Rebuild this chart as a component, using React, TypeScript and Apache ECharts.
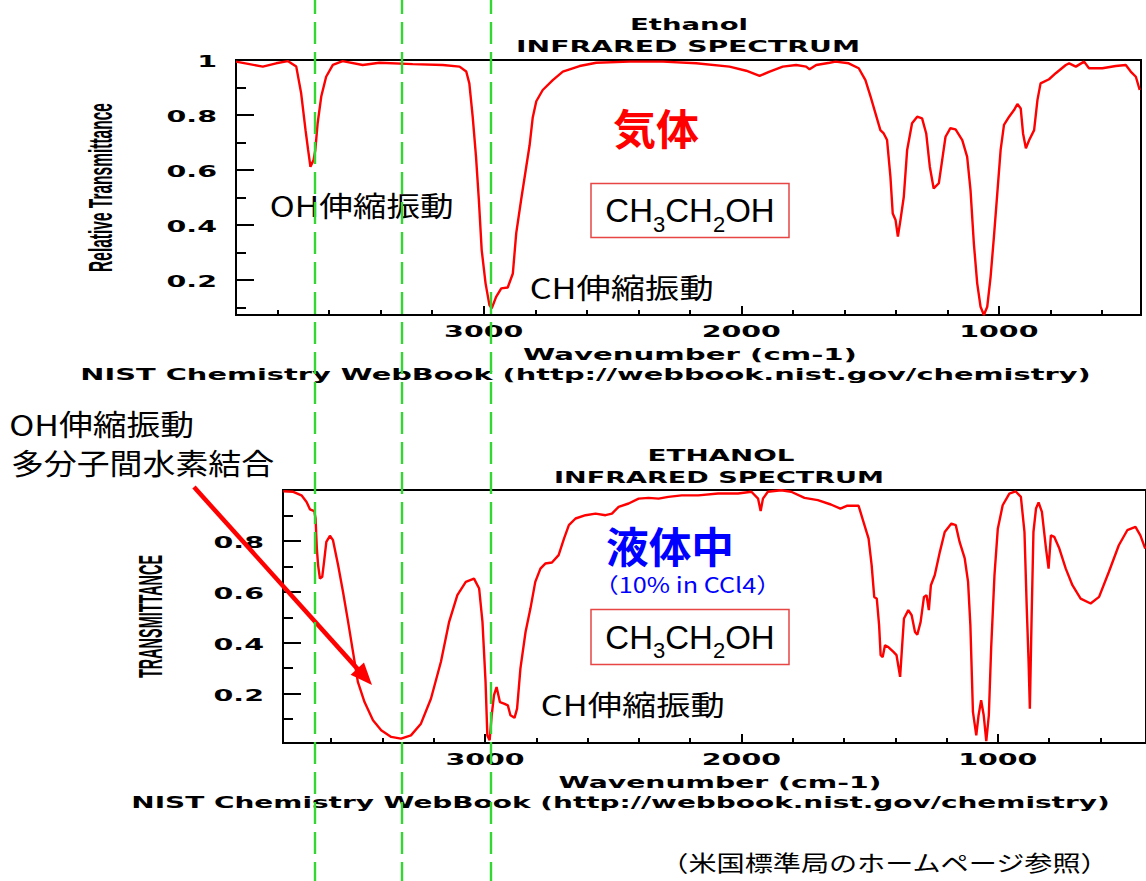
import React, { useEffect, useRef } from "react";
import * as echarts from "echarts";

// ---------- data ----------
// Gas phase spectrum (top)
const gasWavenumber = [
  3962, 3910, 3858, 3806, 3761, 3728, 3709, 3692, 3682, 3673,
  3661, 3654, 3645, 3631, 3612, 3586, 3548, 3470, 3405, 3276,
  3159, 3094, 3068, 3056, 3043, 3030, 3019, 3008, 2993, 2978,
  2969, 2952, 2932, 2907, 2887, 2874, 2855, 2835, 2822, 2810,
  2796, 2771, 2732, 2693, 2628, 2563, 2434, 2305, 2175, 2046,
  1981, 1929, 1890, 1839, 1787, 1748, 1735, 1709, 1657, 1634,
  1583, 1544, 1518, 1498, 1479, 1460, 1447, 1434, 1421, 1412,
  1401, 1392, 1382, 1369, 1356, 1337, 1317, 1298, 1282, 1268,
  1253, 1233, 1220, 1207, 1188, 1168, 1142, 1123, 1110, 1097,
  1084, 1071, 1058, 1045, 1032, 1019, 1006, 993, 980, 960,
  941, 928, 915, 906, 895, 882, 863, 850, 838, 805,
  779, 740, 727, 701, 669, 650, 598, 546, 507, 488,
  468, 453,
];
const gasTransmittance = [
  0.994, 0.985, 0.976, 0.988, 0.996, 0.976, 0.879, 0.745, 0.673, 0.612,
  0.636, 0.673, 0.77, 0.867, 0.939, 0.982, 0.996, 0.982, 0.99, 0.985,
  0.982, 0.976, 0.958, 0.915, 0.794, 0.648, 0.491, 0.309, 0.188, 0.109,
  0.097, 0.139, 0.17, 0.173, 0.224, 0.37, 0.491, 0.612, 0.69, 0.79,
  0.85, 0.891, 0.927, 0.958, 0.978, 0.99, 0.994, 0.994, 0.988, 0.976,
  0.961, 0.942, 0.958, 0.976, 0.982, 0.976, 0.966, 0.982, 0.99, 0.994,
  0.988, 0.97, 0.927, 0.867, 0.806, 0.745, 0.733, 0.709, 0.576, 0.442,
  0.418, 0.358, 0.418, 0.503, 0.673, 0.77, 0.794, 0.788, 0.733, 0.612,
  0.533, 0.552, 0.636, 0.721, 0.752, 0.748, 0.709, 0.648, 0.527, 0.333,
  0.188, 0.103, 0.073, 0.103, 0.212, 0.358, 0.515, 0.673, 0.764, 0.794,
  0.818, 0.84, 0.824, 0.733, 0.679, 0.709, 0.745, 0.855, 0.915, 0.93,
  0.952, 0.982, 0.988, 0.976, 0.994, 0.97, 0.97, 0.978, 0.982, 0.958,
  0.939, 0.891,
];

// Liquid (10% in CCl4) spectrum (bottom)
const liquidWavenumber = [
  3787, 3748, 3716, 3696, 3683, 3666, 3661, 3656, 3651, 3644,
  3635, 3628, 3619, 3605, 3593, 3573, 3554, 3534, 3515, 3496,
  3470, 3437, 3405, 3366, 3328, 3289, 3250, 3211, 3172, 3140,
  3108, 3075, 3043, 3023, 3010, 2998, 2991, 2982, 2974, 2965,
  2955, 2942, 2926, 2911, 2901, 2885, 2875, 2862, 2842, 2823,
  2804, 2784, 2765, 2739, 2713, 2692, 2673, 2647, 2608, 2569,
  2530, 2505, 2479, 2440, 2401, 2362, 2323, 2285, 2233, 2168,
  2091, 2013, 1961, 1935, 1925, 1916, 1897, 1845, 1806, 1754,
  1702, 1651, 1614, 1589, 1543, 1524, 1504, 1492, 1482, 1472,
  1463, 1457, 1449, 1440, 1427, 1407, 1395, 1381, 1373, 1366,
  1349, 1336, 1323, 1314, 1301, 1288, 1278, 1269, 1261, 1246,
  1226, 1207, 1181, 1164, 1149, 1129, 1116, 1107, 1097, 1084,
  1075, 1065, 1055, 1045, 1035, 1026, 1013, 1000, 981, 955,
  931, 910, 896, 887, 880, 875, 868, 861, 851, 841,
  828, 812, 802, 793, 780, 760, 735, 709, 677, 638,
  605, 567, 528, 495, 463, 444, 425,
];
const liquidTransmittance = [
  0.995, 0.993, 0.979, 0.953, 0.924, 0.917, 0.888, 0.77, 0.704, 0.652,
  0.659, 0.717, 0.796, 0.82, 0.803, 0.704, 0.6, 0.482, 0.364, 0.246,
  0.167, 0.095, 0.056, 0.03, 0.023, 0.036, 0.082, 0.18, 0.325, 0.482,
  0.587, 0.639, 0.652, 0.613, 0.482, 0.246, 0.036, 0.017, 0.115, 0.194,
  0.226, 0.167, 0.161, 0.154, 0.115, 0.105, 0.141, 0.298, 0.442, 0.534,
  0.639, 0.691, 0.711, 0.715, 0.744, 0.809, 0.862, 0.888, 0.901, 0.907,
  0.901, 0.907, 0.934, 0.947, 0.966, 0.969, 0.966, 0.973, 0.979, 0.979,
  0.986, 0.986, 0.993, 0.966, 0.917, 0.966, 0.993, 0.999, 0.993, 0.969,
  0.96, 0.943, 0.927, 0.938, 0.938, 0.875, 0.809, 0.704, 0.58, 0.573,
  0.469, 0.351, 0.344, 0.39, 0.383, 0.364, 0.351, 0.266, 0.39, 0.495,
  0.528, 0.508, 0.442, 0.432, 0.482, 0.58, 0.587, 0.528, 0.626, 0.665,
  0.757, 0.835, 0.868, 0.862, 0.796, 0.731, 0.639, 0.469, 0.128, 0.036,
  0.115, 0.174, 0.115, 0.013, 0.115, 0.377, 0.665, 0.848, 0.94, 0.986,
  0.995, 0.973, 0.835, 0.534, 0.325, 0.141, 0.508, 0.835, 0.927, 0.951,
  0.914, 0.77, 0.691, 0.822, 0.816, 0.77, 0.691, 0.626, 0.573, 0.554,
  0.58, 0.678, 0.783, 0.842, 0.855, 0.822, 0.77,
];

// Axis ticks / labels
const xMajorTicks = [3000, 2000, 1000];
const xMinorTicks = [3800, 3600, 3400, 3200, 2800, 2600, 2400, 2200, 1800, 1600, 1400, 1200, 800, 600];
const gasYLabels = [1, 0.8, 0.6, 0.4, 0.2];
const liquidYLabels = [0.8, 0.6, 0.4, 0.2];
const yMajorTicks = [0.2, 0.4, 0.6, 0.8];
const yMinorTicks = [0.1, 0.3, 0.5, 0.7, 0.9];
// Green guide lines (wavenumbers)
const guideWavenumbers = [3654, 3316, 2971];

// ---------- styling ----------
const RED = "#FF0000";
const JP = '"Noto Sans CJK JP", sans-serif';
const WIDE = '"DejaVu Sans", sans-serif';
const ARIAL = '"Liberation Sans", Arial, sans-serif';

let measureCtx: CanvasRenderingContext2D | null = null;
function measure(text: string, font: string): number {
  if (!measureCtx) measureCtx = document.createElement("canvas").getContext("2d");
  measureCtx!.font = font;
  return measureCtx!.measureText(text).width || 1;
}

function fitText(
  text: string, cx: number, cy: number, width: number, size: number,
  family: string, weight: string, color: string, rotation = 0
): any {
  const w = measure(text, `${weight} ${size}px ${family}`);
  return {
    type: "text", x: cx, y: cy, rotation, scaleX: width / w, z: 20,
    style: {
      text, fontSize: size, fontFamily: family, fontWeight: weight, fill: color,
      textAlign: "center", textVerticalAlign: "middle", align: "center", verticalAlign: "middle",
    },
  };
}

function wideLabel(text: string, x: number, y: number, align: string): any {
  return {
    type: "text", x, y, scaleX: 1.9, z: 20,
    style: {
      text, fontSize: 15, fontFamily: WIDE, fontWeight: "bold", fill: "#000",
      textAlign: align, textVerticalAlign: "middle", align, verticalAlign: "middle",
    },
  };
}

function formula(cx: number, capY: number): any[] {
  const parts: [string, number, boolean][] = [
    ["CH", 33, false], ["3", 22, true], ["CH", 33, false], ["2", 22, true], ["OH", 33, false],
  ];
  const widths = parts.map((p) => measure(p[0], `normal ${p[1]}px ${ARIAL}`));
  const total = widths.reduce((a, b) => a + b, 0);
  let x = cx - total / 2;
  return parts.map((p, i) => {
    const el = {
      type: "text", x, y: p[2] ? capY + 13.5 : capY, z: 20,
      style: {
        text: p[0], fontSize: p[1], fontFamily: ARIAL, fill: "#000",
        textAlign: "left", textVerticalAlign: "middle", align: "left", verticalAlign: "middle",
      },
    };
    x += widths[i];
    return el;
  });
}

function arrow(x1: number, y1: number, x2: number, y2: number): any[] {
  const dx = x2 - x1, dy = y2 - y1;
  const len = Math.sqrt(dx * dx + dy * dy);
  const ux = dx / len, uy = dy / len;
  const hl = 22, hw = 9;
  const bx = x2 - ux * hl, by = y2 - uy * hl;
  return [
    { type: "line", z: 25, shape: { x1, y1, x2: bx + ux * 2, y2: by + uy * 2 }, style: { stroke: RED, lineWidth: 4.5 } },
    {
      type: "polygon", z: 25,
      shape: { points: [[x2, y2], [bx - uy * hw, by + ux * hw], [bx + uy * hw, by - ux * hw]] },
      style: { fill: RED },
    },
  ];
}

function zip(xs: number[], ys: number[]) {
  return xs.map((x, i) => [x, ys[i]]);
}

function xAxisPair(gridIndex: number, min: number, max: number) {
  const base = {
    gridIndex, type: "value", inverse: true, min, max, position: "bottom",
    axisLabel: { show: false }, splitLine: { show: false },
  };
  return [
    {
      ...base,
      axisLine: { show: true, onZero: false, lineStyle: { color: "#000", width: 2 } },
      axisTick: { show: true, inside: true, length: 9, lineStyle: { color: "#000", width: 2 }, customValues: xMajorTicks },
    },
    {
      ...base,
      axisLine: { show: false },
      axisTick: {
        show: true, inside: true, length: 5, lineStyle: { color: "#000", width: 2 },
        customValues: xMinorTicks.filter((v) => v > min && v < max),
      },
    },
  ];
}

function yAxisPair(gridIndex: number, min: number, max: number) {
  const base = {
    gridIndex, type: "value", min, max, position: "left",
    axisLabel: { show: false }, splitLine: { show: false },
  };
  return [
    {
      ...base,
      axisLine: { show: true, onZero: false, lineStyle: { color: "#000", width: 2 } },
      axisTick: { show: true, inside: true, length: 18, lineStyle: { color: "#000", width: 2 }, customValues: yMajorTicks },
    },
    {
      ...base,
      axisLine: { show: false },
      axisTick: { show: true, inside: true, length: 10, lineStyle: { color: "#000", width: 2 }, customValues: yMinorTicks },
    },
  ];
}

export default function App() {
  const ref = useRef<HTMLDivElement>(null);

  useEffect(() => {
    const el = ref.current!;
    const chart = echarts.init(el, null, { renderer: "svg" });

    const option: any = {
      animation: false,
      backgroundColor: "#ffffff",
      grid: [
        { left: 236, top: 60, width: 905, height: 255, show: true, borderColor: "#000", borderWidth: 2 },
        { left: 283, top: 490, width: 867, height: 253, show: true, borderColor: "#000", borderWidth: 2 },
      ],
      xAxis: [...xAxisPair(0, 448, 3962), ...xAxisPair(1, 422, 3788)],
      yAxis: [...yAxisPair(0, 0.073, 1), ...yAxisPair(1, 0.006, 1)],
      series: [
        {
          type: "line", xAxisIndex: 0, yAxisIndex: 0, data: zip(gasWavenumber, gasTransmittance),
          showSymbol: false, symbol: "none", lineStyle: { color: RED, width: 2.4 }, itemStyle: { color: RED }, z: 5,
        },
        {
          type: "line", xAxisIndex: 2, yAxisIndex: 2, data: zip(liquidWavenumber, liquidTransmittance),
          showSymbol: false, symbol: "none", lineStyle: { color: RED, width: 2.4 }, itemStyle: { color: RED }, z: 5,
        },
      ],
    };
    chart.setOption(option);

    const px = (axis: number, v: number) => chart.convertToPixel({ xAxisIndex: axis }, v) as unknown as number;
    const py = (axis: number, v: number) => chart.convertToPixel({ yAxisIndex: axis }, v) as unknown as number;

    const g: any[] = [];

    // tick labels
    const topBottom = py(0, 0.073);
    const topLeft = px(0, 3962);
    xMajorTicks.forEach((v) => g.push(wideLabel(String(v), px(0, v), topBottom + 16.5, "center")));
    gasYLabels.forEach((v) => g.push(wideLabel(String(v), topLeft - 19, py(0, v) + 2, "right")));
    const botBottom = py(2, 0.006);
    const botLeft = px(2, 3788);
    xMajorTicks.forEach((v) => g.push(wideLabel(String(v), px(2, v), botBottom + 17, "center")));
    liquidYLabels.forEach((v) => g.push(wideLabel(String(v), botLeft - 19, py(2, v) + 2, "right")));

    // NIST titles and axis names
    g.push(fitText("Ethanol", 689, 24, 118, 16, WIDE, "bold", "#000"));
    g.push(fitText("INFRARED SPECTRUM", 688, 46, 344, 16, WIDE, "bold", "#000"));
    g.push(fitText("Wavenumber (cm-1)", 690, 355, 334, 16, WIDE, "bold", "#000"));
    g.push(fitText("NIST Chemistry WebBook (http://webbook.nist.gov/chemistry)", 585.5, 374, 1011, 16, WIDE, "bold", "#000"));
    g.push(fitText("Relative Transmittance", 100, 187.5, 169, 34, ARIAL, "bold", "#000", Math.PI / 2));

    g.push(fitText("ETHANOL", 721, 455, 147, 16, WIDE, "bold", "#000"));
    g.push(fitText("INFRARED SPECTRUM", 719, 477.5, 330, 16, WIDE, "bold", "#000"));
    g.push(fitText("Wavenumber (cm-1)", 720, 782.5, 323, 16, WIDE, "bold", "#000"));
    g.push(fitText("NIST Chemistry WebBook (http://webbook.nist.gov/chemistry)", 620.5, 802, 979, 16, WIDE, "bold", "#000"));
    g.push(fitText("TRANSMITTANCE", 150, 616.5, 123, 34, ARIAL, "bold", "#000", Math.PI / 2));

    // annotations (Japanese)
    g.push(fitText("気体", 656, 127, 86, 42, JP, "bold", RED));
    g.push({ type: "rect", z: 18, shape: { x: 591, y: 183.5, width: 198, height: 54 }, style: { fill: "#ffffff", stroke: "#E84545", lineWidth: 1.5 } });
    formula(690, 210.5).forEach((e) => g.push(e));
    g.push(fitText("OH伸縮振動", 361.7, 205, 184, 28, JP, "normal", "#000"));
    g.push(fitText("CH伸縮振動", 621.7, 287, 184, 28, JP, "normal", "#000"));

    g.push(fitText("液体中", 670, 544.5, 128, 42, JP, "bold", "#0000FF"));
    g.push(fitText("（10% in CCl4）", 687.5, 584, 188, 21, JP, "normal", "#0000FF"));
    g.push({ type: "rect", z: 18, shape: { x: 591, y: 609.5, width: 198, height: 55 }, style: { fill: "#ffffff", stroke: "#E84545", lineWidth: 1.5 } });
    formula(690, 637).forEach((e) => g.push(e));
    g.push(fitText("CH伸縮振動", 632.8, 703.5, 184, 28, JP, "normal", "#000"));

    g.push(fitText("OH伸縮振動", 101.7, 423, 185, 29, JP, "normal", "#000"));
    g.push(fitText("多分子間水素結合", 142.5, 462, 263, 29, JP, "normal", "#000"));
    arrow(194, 487, 372, 685).forEach((e) => g.push(e));

    g.push(fitText("（米国標準局のホームページ参照）", 884.5, 861, 450, 22, JP, "normal", "#000"));

    // green guide lines through both spectra
    guideWavenumbers.forEach((wn) => {
      const x = Math.round(px(0, wn));
      g.push({
        type: "line", z: 30,
        shape: { x1: x, y1: 0, x2: x, y2: 881 },
        style: { stroke: "#33D633", lineWidth: 2.4, lineDash: [22, 8], lineDashOffset: 8 },
      });
    });

    chart.setOption({ graphic: g });

    return () => chart.dispose();
  }, []);

  return <div ref={ref} style={{ position: "absolute", left: 0, top: 0, width: 1146, height: 881 }} />;
}
